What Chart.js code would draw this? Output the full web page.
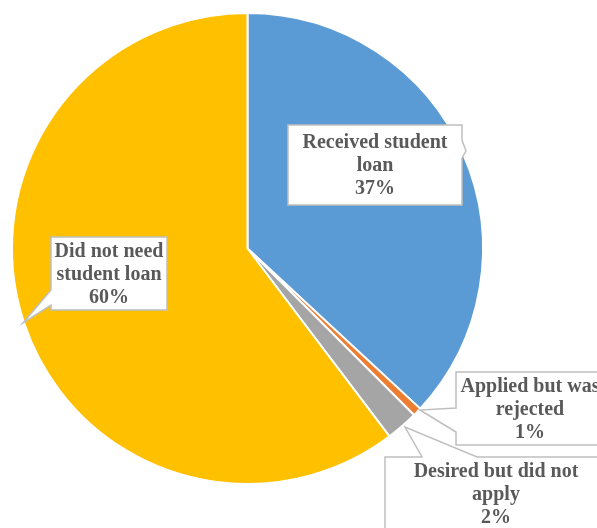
<!DOCTYPE html>
<html>
<head>
<meta charset="utf-8">
<script src="https://cdn.jsdelivr.net/npm/chart.js@4.4.1/dist/chart.umd.min.js"></script>
<style>
  html, body { margin: 0; padding: 0; background: #fff; }
  #wrap { width: 597px; height: 528px; }
</style>
</head>
<body>
<div id="wrap"><canvas id="loanPie" width="597" height="528"></canvas></div>
<script>
const categories = ["Received student loan", "Applied but was rejected", "Desired but did not apply", "Did not need student loan"];
const shares = [36.9, 0.6, 2.2, 60.3];
const sliceColors = ["#5B9BD5", "#ED7D31", "#A5A5A5", "#FFC000"];

// label text split into lines, same order as categories
const labelLines = [
    ["Received student", "loan"],
    ["Applied but was", "rejected"],
    ["Desired but did not", "apply"],
    ["Did not need", "student loan"]
];

// callout boxes: x, y, w, h, text centre, wedge side / base / tip
const callouts = [
    { x: 288, y: 125, w: 174, h: 80, cx: 375, ty: 143, side: "right", b1: 140, b2: 158, tip: [466, 151] },
    { x: 456, y: 372, w: 150, h: 73, cx: 530, ty: 387, side: "left", b1: 408, b2: 432, tip: [420, 410] },
    { x: 385, y: 457, w: 220, h: 90, cx: 496, ty: 472, side: "top", b1: 422, b2: 477, tip: [405, 427] },
    { x: 51, y: 237, w: 116, h: 73, cx: 109, ty: 252, side: "left", b1: 290, b2: 305, tip: [23, 323] }
];

function calloutPath(ctx, c) {
    const r = c.x + c.w, b = c.y + c.h;
    ctx.beginPath();
    ctx.moveTo(c.x, c.y);
    if (c.side === "top") {
        ctx.lineTo(c.b1, c.y);
        ctx.lineTo(c.tip[0], c.tip[1]);
        ctx.lineTo(c.b2, c.y);
    }
    ctx.lineTo(r, c.y);
    if (c.side === "right") {
        ctx.lineTo(r, c.b1);
        ctx.lineTo(c.tip[0], c.tip[1]);
        ctx.lineTo(r, c.b2);
    }
    ctx.lineTo(r, b);
    ctx.lineTo(c.x, b);
    if (c.side === "left") {
        ctx.lineTo(c.x, c.b2);
        ctx.lineTo(c.tip[0], c.tip[1]);
        ctx.lineTo(c.x, c.b1);
    }
    ctx.closePath();
}

const calloutPlugin = {
    id: "callouts",
    afterDatasetsDraw(chart) {
        const ctx = chart.ctx;
        const vals = chart.data.datasets[0].data;
        ctx.save();
        callouts.forEach((c, i) => {
            calloutPath(ctx, c);
            ctx.fillStyle = "#fff";
            ctx.fill();
            ctx.strokeStyle = "#BFBFBF";
            ctx.lineWidth = 1.5;
            ctx.stroke();

            const lines = labelLines[i].concat([Math.round(vals[i]) + "%"]);
            ctx.fillStyle = "#595959";
            ctx.font = "bold 20px 'Liberation Serif', 'Times New Roman', serif";
            ctx.textAlign = "center";
            ctx.textBaseline = "middle";
            lines.forEach((t, k) => ctx.fillText(t, c.cx, c.ty + k * 23));
        });
        ctx.restore();
    }
};

new Chart(document.getElementById("loanPie"), {
    type: "pie",
    data: {
        labels: categories,
        datasets: [{
            data: shares,
            backgroundColor: sliceColors,
            borderColor: "#fff",
            borderWidth: 2,
            hoverOffset: 0
        }]
    },
    options: {
        responsive: false,
        animation: false,
        layout: { padding: { left: 0, right: 102, top: 12, bottom: 43 } },
        plugins: {
            legend: { display: false },
            tooltip: { enabled: false }
        }
    },
    plugins: [calloutPlugin]
});
</script>
</body>
</html>
